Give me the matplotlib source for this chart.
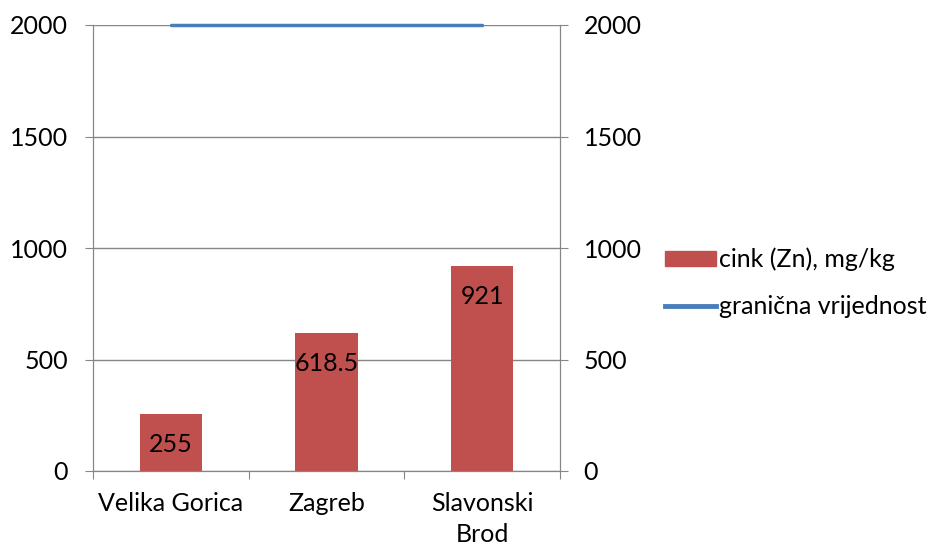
import matplotlib.pyplot as plt
from matplotlib.patches import Patch
from matplotlib.lines import Line2D

# podaci
gradovi = ["Velika Gorica", "Zagreb", "Slavonski\nBrod"]
cink = [255, 618.5, 921]
granica = [2000, 2000, 2000]
oznake = ["255", "618.5", "921"]
y_ticks = [0, 500, 1000, 1500, 2000]

plt.rcParams['font.family'] = ['Lato', 'DejaVu Sans']
fs = 18
siva = "#868686"
crvena = "#c0504d"
plava = "#4a7ebb"

fig = plt.figure(figsize=(9.34, 5.5), dpi=100)
ax = fig.add_axes([93/934, 1 - 471/550, 467/934, 446/550])

x = list(range(len(gradovi)))
ax.bar(x, cink, width=0.4, color=crvena, zorder=3)
for xi, v, t in zip(x, cink, oznake):
    ax.annotate(t, (xi, v), xytext=(0, -22), textcoords="offset points",
                ha="center", va="center", fontsize=fs, color="black", zorder=4)

ax.set_xlim(-0.5, 2.5)
ax.set_ylim(0, 2000)
ax.set_yticks(y_ticks)
ax.set_yticklabels([str(t) for t in y_ticks], fontsize=fs)
ax.yaxis.grid(True, color=siva, linewidth=1)
ax.set_axisbelow(True)

ax.set_xticks([-0.5, 0.5, 1.5, 2.5])
ax.set_xticklabels([])
ax.set_xticks(x, minor=True)
ax.set_xticklabels(gradovi, minor=True, fontsize=fs, linespacing=1.45)
ax.tick_params(axis="x", which="major", length=6, color=siva, direction="out")
ax.tick_params(axis="x", which="minor", length=0, pad=15)
ax.tick_params(axis="y", length=6, color=siva, pad=12)

for s in ["left", "right", "bottom"]:
    ax.spines[s].set_color(siva)
ax.spines["top"].set_visible(False)

ax2 = ax.twinx()
ax2.plot(x, granica, color=plava, linewidth=2.5, solid_capstyle="round", zorder=5, clip_on=False)
ax2.set_ylim(0, 2000)
ax2.set_yticks(y_ticks)
ax2.set_yticklabels([str(t) for t in y_ticks], fontsize=fs)
ax2.tick_params(axis="y", length=6, color=siva, pad=11)
for s in ["left", "right", "bottom"]:
    ax2.spines[s].set_color(siva)
ax2.spines["top"].set_visible(False)

handles = [Patch(color=crvena), Line2D([0], [0], color=plava, linewidth=3.5)]
fig.legend(handles, ["cink (Zn), mg/kg", "granična vrijednost"],
           loc="center left", bbox_to_anchor=(655/934, 1 - 283/550),
           frameon=False, fontsize=fs, handlelength=2.05, handleheight=0.5,
           handletextpad=0.1, labelspacing=0.95, borderaxespad=0)

fig.savefig("out.png", dpi=100)
